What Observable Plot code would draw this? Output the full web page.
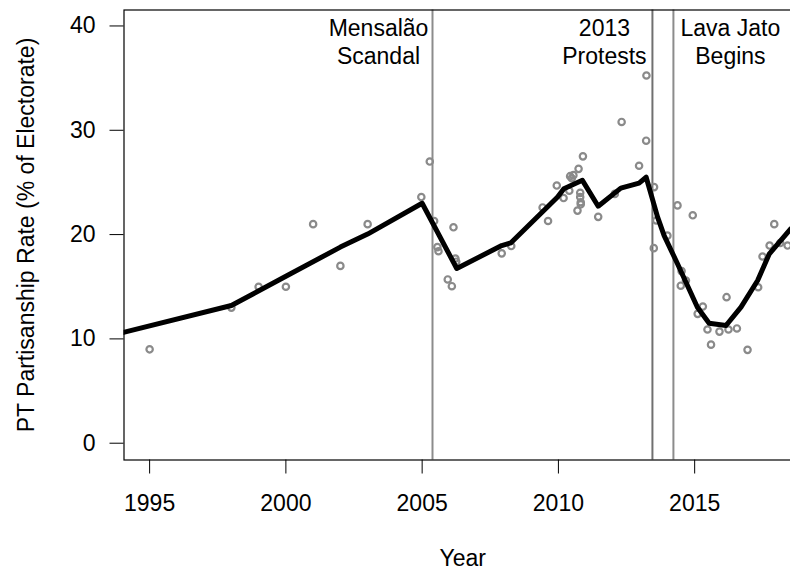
<!DOCTYPE html>
<html><head><meta charset="utf-8">
<script src="https://cdn.jsdelivr.net/npm/d3@7"></script>
<script src="https://cdn.jsdelivr.net/npm/@observablehq/plot@0.6"></script>
<style>html,body{margin:0;padding:0;background:#fff;overflow:hidden;} #chart{width:790px;height:572px;overflow:hidden;} #chart svg{max-width:none !important;}</style>
</head><body><div id="chart"></div>
<script>
// Survey observations (year, PT partisanship %)
const pointYears = [1995, 1998, 1999, 2000, 2001, 2002, 2003, 2004.97, 2005.28, 2005.44, 2005.56, 2005.6, 2005.94, 2006.09, 2006.15, 2006.22, 2006.25,
  2007.92, 2008.27, 2009.42, 2009.62, 2009.94, 2010.19, 2010.4, 2010.43, 2010.49, 2010.55, 2010.74, 2010.9, 2010.8, 2010.8, 2010.82, 2010.82, 2010.7,
  2011.46, 2012.07, 2012.32, 2012.96, 2013.22, 2013.23, 2013.51, 2013.59, 2013.5, 2014.0, 2014.37, 2014.93, 2014.52, 2014.68, 2014.49,
  2015.3, 2015.11, 2015.47, 2015.6, 2015.91, 2016.17, 2016.24, 2016.55, 2016.94, 2017.33, 2017.49, 2017.75, 2017.92, 2018.14, 2018.41];
const pointValues = [9, 13, 15, 15, 21, 17, 21, 23.6, 27, 21.3, 18.8, 18.4, 15.7, 15.05, 20.7, 17.7, 17.4,
  18.2, 18.9, 22.6, 21.3, 24.7, 23.5, 24.2, 25.6, 25.4, 25.7, 26.3, 27.5, 24.0, 23.6, 23.1, 22.9, 22.3,
  21.7, 23.9, 30.8, 26.6, 29.0, 35.25, 24.55, 21.35, 18.7, 19.9, 22.8, 21.85, 16.5, 15.6, 15.1,
  13.1, 12.4, 10.9, 9.45, 10.7, 14.0, 10.9, 11.0, 8.95, 14.95, 17.9, 18.95, 21.0, 19.2, 18.95];

// Smoothed trend line
const trendYears = [1994.0, 1998.0, 2000.0, 2002.0, 2003.0, 2005.0, 2006.27, 2007.92, 2008.25, 2009.97, 2010.2, 2010.88, 2011.46, 2012.29, 2012.96, 2013.22,
  2013.64, 2013.88, 2014.37, 2015.1, 2015.53, 2016.15, 2016.7, 2017.31, 2017.74, 2018.53, 2018.7];
const trendValues = [10.6, 13.2, 16.0, 18.8, 20.05, 23.0, 16.75, 18.95, 19.2, 23.6, 24.4, 25.2, 22.72, 24.45, 24.93, 25.5,
  21.67, 19.9, 17.2, 13.04, 11.5, 11.28, 13.04, 15.6, 18.16, 20.56, 20.9];

// Events
const eventYears = [2005.38, 2013.45, 2014.22];
const eventLabels = ["Mensalão\nScandal", "2013\nProtests", "Lava Jato\nBegins"];

// Ticks and titles
const xTicks = [1995, 2000, 2005, 2010, 2015];
const yTicks = [0, 10, 20, 30, 40];
const xTitle = "Year";
const yTitle = "PT Partisanship Rate (% of Electorate)";

const points = pointYears.map((x, i) => ({year: x, value: pointValues[i]}));
const trend = trendYears.map((x, i) => ({year: x, value: trendValues[i]}));
const events = eventYears.map((x, i) => ({year: x, label: eventLabels[i]}));

const labelStyle = {x: "year", text: "label", frameAnchor: "top", lineAnchor: "top", dy: 6, lineHeight: 1.23, textAnchor: "middle", fill: "black"};

const chart = Plot.plot({
  width: 801, height: 572,
  marginLeft: 123.5, marginRight: 0, marginTop: 9.5, marginBottom: 112.5,
  style: {fontFamily: "'Liberation Sans', Arial, Helvetica, sans-serif", fontSize: "23px", color: "black", background: "white", maxWidth: "none"},
  x: {domain: [1994.06, 2018.92]},
  y: {domain: [-1.61, 41.53]},
  marks: [
    Plot.ruleX(events.filter((d, i) => i !== 1), {x: "year", stroke: "#8c8c8c", strokeWidth: 2}),
    Plot.ruleX(events.filter((d, i) => i === 1), {x: "year", stroke: "#707070", strokeWidth: 2}),
    Plot.dot(points, {x: "year", y: "value", r: 3.2, stroke: "#8a8a8a", strokeWidth: 2.2, fill: "none", clip: true}),
    Plot.line(trend, {x: "year", y: "value", stroke: "black", strokeWidth: 5, strokeLinejoin: "round", clip: true}),
    Plot.text(events.filter((d, i) => i === 0), {...labelStyle, dx: -54}),
    Plot.text(events.filter((d, i) => i === 1), {...labelStyle, dx: -48}),
    Plot.text(events.filter((d, i) => i === 2), {...labelStyle, dx: 57}),
    Plot.axisX({ticks: xTicks, tickSize: 14, tickPadding: 21, tickFormat: "d", label: null, stroke: "black"}),
    Plot.axisY({ticks: yTicks, tickSize: 14, tickPadding: 14.5, tickFormat: "d", label: null, stroke: "black"}),
    Plot.frame({stroke: "black", strokeWidth: 1.2}),
    Plot.text([xTitle], {text: d => d, frameAnchor: "bottom", lineAnchor: "bottom", textAnchor: "middle", dy: 106, fill: "black"}),
    Plot.text([yTitle], {text: d => d, frameAnchor: "left", rotate: -90, lineAnchor: "top", textAnchor: "middle", dx: -106.8, fill: "black"})
  ]
});
document.getElementById("chart").appendChild(chart);
</script>
</body></html>
